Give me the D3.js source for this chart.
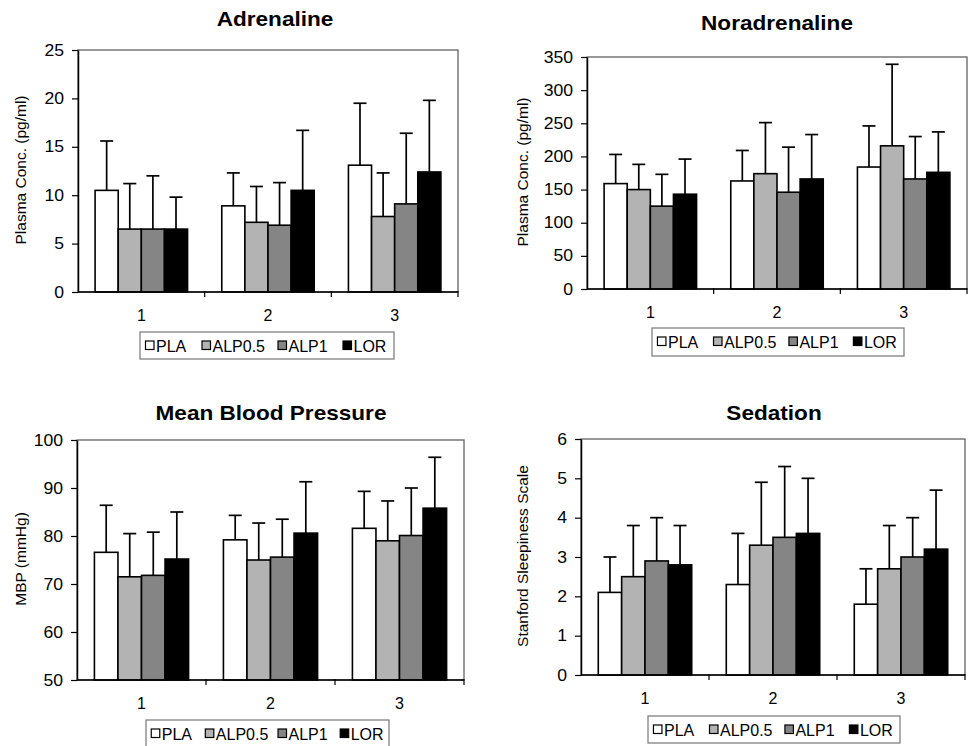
<!DOCTYPE html>
<html><head><meta charset="utf-8">
<script src="https://cdn.jsdelivr.net/npm/d3@7"></script>
<style>body{margin:0;background:#fff}svg{display:block}text{font-family:"Liberation Sans",Arial,sans-serif;fill:#000}</style>
</head><body>
<svg id="c" width="972" height="746"></svg>
<script>
const categories = ["1", "2", "3"];
const seriesNames = ["PLA", "ALP0.5", "ALP1", "LOR"];
const seriesColors = ["#ffffff", "#b3b3b3", "#858585", "#000000"];
const titles = ["Adrenaline", "Noradrenaline", "Mean Blood Pressure", "Sedation"];
const yTitles = ["Plasma Conc. (pg/ml)", "Plasma Conc. (pg/ml)", "MBP (mmHg)", "Stanford Sleepiness Scale"];

// values indexed [series][category]
const adrMean = [[10.5, 8.9, 13.1], [6.5, 7.2, 7.8], [6.5, 6.9, 9.1], [6.5, 10.5, 12.4]];
const adrSD   = [[5.1, 3.4, 6.4], [4.7, 3.7, 4.5], [5.5, 4.4, 7.3], [3.3, 6.2, 7.4]];
const adrTicks = [0, 5, 10, 15, 20, 25];

const norMean = [[159, 163, 184], [150, 174, 216], [125, 146, 166], [143, 166, 176]];
const norSD   = [[44, 46, 62], [38, 77, 123], [48, 68, 64], [53, 67, 61]];
const norTicks = [0, 50, 100, 150, 200, 250, 300, 350];

const mbpMean = [[76.6, 79.2, 81.6], [71.5, 75.0, 79.0], [71.8, 75.6, 80.1], [75.2, 80.6, 85.8]];
const mbpSD   = [[9.8, 5.1, 7.7], [9.0, 7.7, 8.3], [9.0, 7.9, 9.9], [9.8, 10.7, 10.6]];
const mbpTicks = [50, 60, 70, 80, 90, 100];

const sedMean = [[2.1, 2.3, 1.8], [2.5, 3.3, 2.7], [2.9, 3.5, 3.0], [2.8, 3.6, 3.2]];
const sedSD   = [[0.9, 1.3, 0.9], [1.3, 1.6, 1.1], [1.1, 1.8, 1.0], [1.0, 1.4, 1.5]];
const sedTicks = [0, 1, 2, 3, 4, 5, 6];

const panels = [
  {mean: adrMean, sd: adrSD, ticks: adrTicks, title: titles[0], yt: yTitles[0],
   L: 78, R: 458, T: 50, B: 292, tx: 275, ty: 26, yx: 21, lg: [140, 332, 254, 27]},
  {mean: norMean, sd: norSD, ticks: norTicks, title: titles[1], yt: yTitles[1],
   L: 587, R: 967, T: 57, B: 289, tx: 777, ty: 30, yx: 523, lg: [652, 328, 252, 28]},
  {mean: mbpMean, sd: mbpSD, ticks: mbpTicks, title: titles[2], yt: yTitles[2],
   L: 77, R: 464, T: 440, B: 680, tx: 271, ty: 420, yx: 21, lg: [146, 720, 243, 30]},
  {mean: sedMean, sd: sedSD, ticks: sedTicks, title: titles[3], yt: yTitles[3],
   L: 581, R: 965, T: 439, B: 675, tx: 774, ty: 420, yx: 523, lg: [648, 716, 252, 27]}
];

const svg = d3.select("#c");
const legendOffsets = [5.5, 62, 138, 203];

panels.forEach(p => {
  const g = svg.append("g");
  const y = d3.scaleLinear().domain([p.ticks[0], p.ticks[p.ticks.length - 1]]).range([p.B, p.T]);
  const x0 = d3.scaleBand().domain(categories).range([p.L, p.R]).padding(0);
  const bw = x0.bandwidth();
  const x1 = d3.scaleBand().domain(seriesNames).range([bw * 0.135, bw * 0.865]).padding(0);

  // frame
  g.append("rect").attr("x", p.L).attr("y", p.T).attr("width", p.R - p.L).attr("height", p.B - p.T)
    .attr("fill", "none").attr("stroke", "#555").attr("stroke-width", 1.2);

  // bars with upper error bars
  seriesNames.forEach((s, si) => {
    categories.forEach((c, ci) => {
      const v = p.mean[si][ci], sd = p.sd[si][ci];
      const bx = x0(c) + x1(s), w = x1.bandwidth();
      const cx = bx + w / 2;
      g.append("line").attr("x1", cx).attr("x2", cx).attr("y1", y(v)).attr("y2", y(v + sd))
        .attr("stroke", "#000").attr("stroke-width", 1.7);
      g.append("line").attr("x1", cx - 6.5).attr("x2", cx + 6.5).attr("y1", y(v + sd)).attr("y2", y(v + sd))
        .attr("stroke", "#000").attr("stroke-width", 1.7);
      g.append("rect").attr("x", bx).attr("y", y(v)).attr("width", w).attr("height", y.range()[0] - y(v))
        .attr("fill", seriesColors[si]).attr("stroke", "#000").attr("stroke-width", 1.6);
    });
  });

  // y axis
  const ya = g.append("g").attr("transform", `translate(${p.L},0)`)
    .call(d3.axisLeft(y).tickValues(p.ticks).tickFormat(d3.format("d"))
      .tickSize(6).tickSizeOuter(0).tickPadding(8));
  ya.select(".domain").attr("stroke", "#000").attr("stroke-width", 1.5);
  ya.selectAll(".tick line").attr("stroke", "#000").attr("stroke-width", 1.2);
  ya.selectAll(".tick text").each(function () {
    const t = d3.select(this);
    const xx = +t.attr("x");
    t.attr("x", 0).attr("transform", `translate(${xx},0) scale(1.1,1)`)
      .style("font-size", "16px").attr("fill", "#000");
  });

  // x axis
  g.append("line").attr("x1", p.L).attr("x2", p.R).attr("y1", p.B).attr("y2", p.B)
    .attr("stroke", "#000").attr("stroke-width", 1.5);
  [1, 2, 3].forEach(k => {
    const xx = p.L + k * bw;
    g.append("line").attr("x1", xx).attr("x2", xx).attr("y1", p.B - 1).attr("y2", p.B + 5)
      .attr("stroke", "#000").attr("stroke-width", 1.2);
  });
  categories.forEach(c => {
    g.append("text").attr("x", x0(c) + bw / 2).attr("y", p.B + 29).attr("text-anchor", "middle")
      .style("font-size", "16px").text(c);
  });

  // title
  g.append("text").attr("transform", `translate(${p.tx},${p.ty}) scale(1.13,1)`)
    .attr("text-anchor", "middle").style("font-size", "20px").style("font-weight", "bold").text(p.title);

  // y title
  g.append("text").attr("transform", `translate(${p.yx + 5},${(p.T + p.B) / 2 - 1}) rotate(-90)`)
    .attr("text-anchor", "middle").style("font-size", "15.5px").text(p.yt);

  // legend
  const [lx, ly, lw, lh] = p.lg;
  g.append("rect").attr("x", lx).attr("y", ly).attr("width", lw).attr("height", lh)
    .attr("fill", "#fff").attr("stroke", "#777").attr("stroke-width", 1.2);
  const cy = ly + 13.5;
  const sc = lw / 254;
  seriesNames.forEach((s, si) => {
    const bx = lx + legendOffsets[si] * sc;
    g.append("rect").attr("x", bx).attr("y", cy - 4.5).attr("width", 8.5).attr("height", 8.5)
      .attr("fill", seriesColors[si]).attr("stroke", "#000").attr("stroke-width", 1.2);
    g.append("text").attr("x", bx + 10.5).attr("y", cy + 6).style("font-size", "16px").text(s);
  });
});
</script>
</body></html>
